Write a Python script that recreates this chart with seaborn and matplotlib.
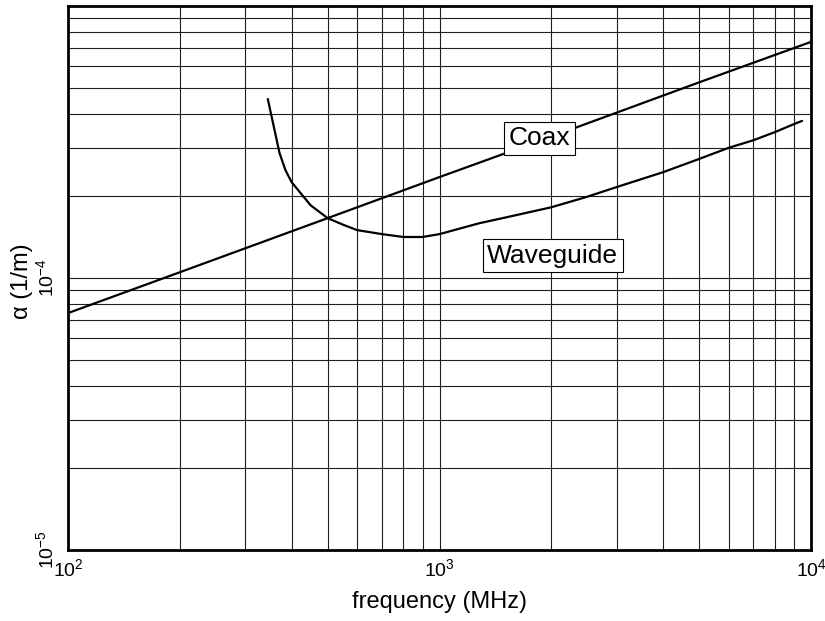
import numpy as np
import pandas as pd
import matplotlib
matplotlib.use("Agg")
import matplotlib.pyplot as plt
import matplotlib.ticker as mticker
import seaborn as sns

# ---- data ----
coax_freq = [100, 200, 500, 1000, 2000, 5000, 10000]
coax_alpha = [7.43e-5, 1.05e-4, 1.66e-4, 2.35e-4, 3.31e-4, 5.24e-4, 7.38e-4]

wg_freq = [345, 371, 385, 400, 450, 500, 550, 600, 700, 800, 900, 1000, 1280,
           1500, 2000, 2500, 3000, 4000, 5000, 6000, 7000, 8000, 9000, 9460]
wg_alpha = [4.55e-4, 2.88e-4, 2.49e-4, 2.25e-4, 1.85e-4, 1.66e-4, 1.57e-4,
            1.50e-4, 1.45e-4, 1.415e-4, 1.415e-4, 1.45e-4, 1.59e-4, 1.667e-4,
            1.82e-4, 1.99e-4, 2.16e-4, 2.45e-4, 2.74e-4, 3.01e-4, 3.21e-4,
            3.44e-4, 3.68e-4, 3.78e-4]

x_ticks = [1e2, 1e3, 1e4]
x_ticklabels = [r"$\mathdefault{10^{2}}$", r"$\mathdefault{10^{3}}$", r"$\mathdefault{10^{4}}$"]
y_ticks = [1e-5, 1e-4]
y_ticklabels = [r"$\mathdefault{10^{-5}}$", r"$\mathdefault{10^{-4}}$"]

labels = ["Coax", "Waveguide"]
label_pos = [(1862, 3.27e-4), (2018, 1.205e-4)]

# ---- style ----
sns.set_theme(style="white")
plt.rcParams["font.family"] = ["Liberation Sans", "DejaVu Sans"]
plt.rcParams["mathtext.fontset"] = "custom"
plt.rcParams["mathtext.rm"] = "Liberation Sans"
plt.rcParams["mathtext.it"] = "Liberation Sans:italic"
plt.rcParams["mathtext.bf"] = "Liberation Sans:bold"
for k in ["text.color", "axes.labelcolor", "xtick.color", "ytick.color"]:
    plt.rcParams[k] = "black"

fig = plt.figure(figsize=(8.25, 6.21), dpi=100)
ax = fig.add_axes([68 / 825, 1 - 550 / 621, (811 - 68) / 825, (550 - 6) / 621])

df_coax = pd.DataFrame({"f": coax_freq, "alpha": coax_alpha})
df_wg = pd.DataFrame({"f": wg_freq, "alpha": wg_alpha})

sns.lineplot(data=df_coax, x="f", y="alpha", ax=ax, color="black", lw=1.6, zorder=3)
sns.lineplot(data=df_wg, x="f", y="alpha", ax=ax, color="black", lw=1.6, zorder=3)

ax.set_xscale("log")
ax.set_yscale("log")
ax.set_xlim(1e2, 1e4)
ax.set_ylim(1e-5, 1e-3)

ax.xaxis.set_major_locator(mticker.FixedLocator(x_ticks))
ax.xaxis.set_major_formatter(mticker.FixedFormatter(x_ticklabels))
ax.yaxis.set_major_locator(mticker.FixedLocator(y_ticks))
ax.yaxis.set_major_formatter(mticker.FixedFormatter(y_ticklabels))
ax.xaxis.set_minor_locator(mticker.LogLocator(base=10, subs=np.arange(2, 10), numticks=20))
ax.yaxis.set_minor_locator(mticker.LogLocator(base=10, subs=np.arange(2, 10), numticks=20))
ax.xaxis.set_minor_formatter(mticker.NullFormatter())
ax.yaxis.set_minor_formatter(mticker.NullFormatter())

ax.grid(True, which="both", color="0.12", lw=0.8)
ax.tick_params(which="both", length=0)
ax.tick_params(axis="x", labelsize=14, pad=6)
ax.tick_params(axis="y", labelsize=14, pad=8)
for lab in ax.get_yticklabels():
    lab.set_rotation(90)
    lab.set_va("center")

for s in ax.spines.values():
    s.set_color("black")
    s.set_linewidth(2.0)

ax.set_xlabel("frequency (MHz)", fontsize=17)
ax.set_ylabel("α (1/m)", fontsize=17)
ax.xaxis.set_label_coords(0.5, -0.0956)
ax.yaxis.set_label_coords(-0.062, 0.494)
ax.xaxis.label.set_va("center")
ax.yaxis.label.set_va("center")

for txt, (fx, fy) in zip(labels, label_pos):
    ax.text(fx, fy, txt, fontsize=19, ha="center", va="center", zorder=5,
            bbox=dict(boxstyle="square,pad=0.17", fc="white", ec="black", lw=0.8))

fig.savefig("out.png", dpi=100)
